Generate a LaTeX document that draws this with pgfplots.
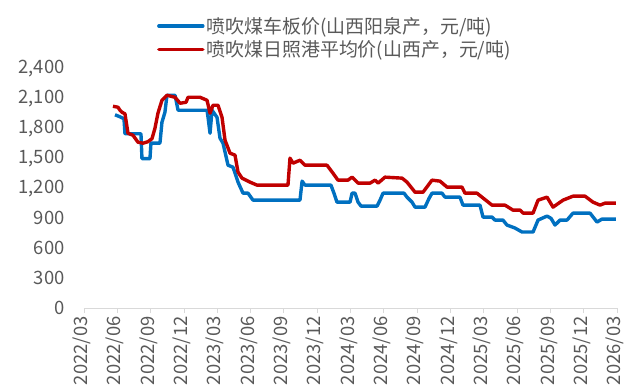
\documentclass[border=0pt]{standalone}
\usepackage{pgfplots}
\pgfplotsset{compat=1.18}
\usepackage{fontspec}
\setmainfont{Noto Sans CJK SC}
\definecolor{bl}{HTML}{0070C0}
\definecolor{rd}{HTML}{C00000}
\definecolor{tx}{HTML}{595959}
\definecolor{axc}{HTML}{D9D9D9}
\newcommand{\tf}{\fontsize{18.5}{21}\selectfont}
\newcommand{\lf}{\fontsize{19}{22}\selectfont}
\begin{document}
\begin{tikzpicture}
\useasboundingbox (-84bp,-80bp) rectangle (559bp,308bp);
\begin{axis}[
  at={(0,0)}, anchor=south west, scale only axis,
  width=533bp, height=239bp,
  xmin=0, xmax=48, ymin=0, ymax=2400,
  axis lines*=left,
  y axis line style={draw=none},
  x axis line style={draw=axc, line width=0.8bp},
  xtick={0,3,...,48},
  xticklabels={2022/03,2022/06,2022/09,2022/12,2023/03,2023/06,2023/09,2023/12,2024/03,2024/06,2024/09,2024/12,2025/03,2025/06,2025/09,2025/12,2026/03},
  ytick={0,300,...,2400},
  xtick pos=bottom, tick align=outside,
  major tick length=5bp,
  xtick style={draw=axc, line width=0.8bp},
  ytick style={draw=none},
  x tick label style={rotate=90, anchor=east, font=\tf, text=tx, yshift=2bp},
  y tick label style={font=\tf, text=tx, xshift=-11bp},
  /pgf/number format/1000 sep={,},
  /pgf/number format/assume math mode=true,
  legend style={at={(0.135,1.23)}, anchor=north west, draw=none, fill=none,
    font=\lf, text=tx, row sep=2bp, inner sep=1bp},
  legend cell align=left,
  legend image code/.code={\draw[#1, line width=3.4bp, line cap=round] (0bp,0bp) -- (44bp,0bp);},
  every axis plot/.append style={line width=3.4bp, line join=round},
]
\addplot[bl, no markers] coordinates {
(2.79,1940)(3.24,1920)(3.60,1900)(3.69,1750)(5.13,1750)(5.22,1500)(5.94,1500)(6.03,1655)(6.84,1655)(7.02,1865)(7.29,1966)(7.47,2136)(8.20,2136)(8.47,1986)(11.08,1986)(11.17,1915)(11.35,1755)(11.53,1986)(11.98,1915)(12.25,1705)(12.52,1655)(12.97,1434)(13.42,1414)(13.87,1264)(14.32,1153)(14.77,1153)(15.22,1083)(19.45,1083)(19.64,1274)(19.90,1234)(22.24,1234)(22.51,1153)(22.78,1063)(23.96,1063)(24.14,1153)(24.41,1153)(24.68,1063)(24.95,1023)(26.39,1023)(26.66,1083)(26.93,1153)(28.82,1153)(29.09,1113)(29.54,1063)(29.81,1013)(30.71,1013)(31.07,1100)(31.34,1153)(32.24,1153)(32.51,1113)(33.86,1113)(34.13,1033)(35.66,1033)(35.93,913)(36.74,913)(37.01,883)(37.73,883)(38.09,833)(38.81,803)(39.45,763)(40.44,763)(40.89,883)(41.70,923)(42.06,900)(42.42,833)(42.87,883)(43.50,883)(44.04,953)(45.57,953)(46.20,863)(46.65,893)(47.9,893)
};
\addlegendentry{喷吹煤车板价(山西阳泉产，元/吨)}
\addplot[rd, no markers] coordinates {
(2.61,2026)(3.06,2016)(3.24,1986)(3.42,1966)(3.69,1950)(3.96,1755)(4.41,1735)(4.86,1665)(5.31,1655)(5.76,1670)(6.12,1700)(6.39,1805)(6.66,1956)(7.02,2086)(7.47,2136)(8.20,2116)(8.65,2056)(9.19,2066)(9.37,2116)(10.45,2116)(11.08,2086)(11.35,1956)(11.62,2036)(12.07,2036)(12.43,1915)(12.70,1685)(13.15,1555)(13.60,1535)(13.87,1364)(14.23,1304)(14.95,1264)(15.58,1234)(18.37,1234)(18.55,1505)(18.82,1454)(19.45,1484)(19.90,1434)(21.88,1434)(22.42,1354)(22.87,1284)(23.78,1284)(24.14,1314)(24.68,1254)(25.76,1254)(26.21,1284)(26.48,1254)(27.11,1314)(28.64,1304)(29.09,1264)(29.81,1163)(30.53,1163)(31.34,1284)(32.06,1274)(32.69,1214)(34.04,1214)(34.31,1153)(35.39,1153)(35.84,1113)(36.74,1033)(37.91,1033)(38.63,983)(39.27,983)(39.54,953)(40.44,953)(40.89,1083)(41.70,1113)(42.24,1013)(43.14,1083)(44.04,1123)(45.12,1123)(45.84,1063)(46.47,1033)(46.92,1053)(47.9,1053)
};
\addlegendentry{喷吹煤日照港平均价(山西产，元/吨)}
\end{axis}
\end{tikzpicture}
\end{document}
